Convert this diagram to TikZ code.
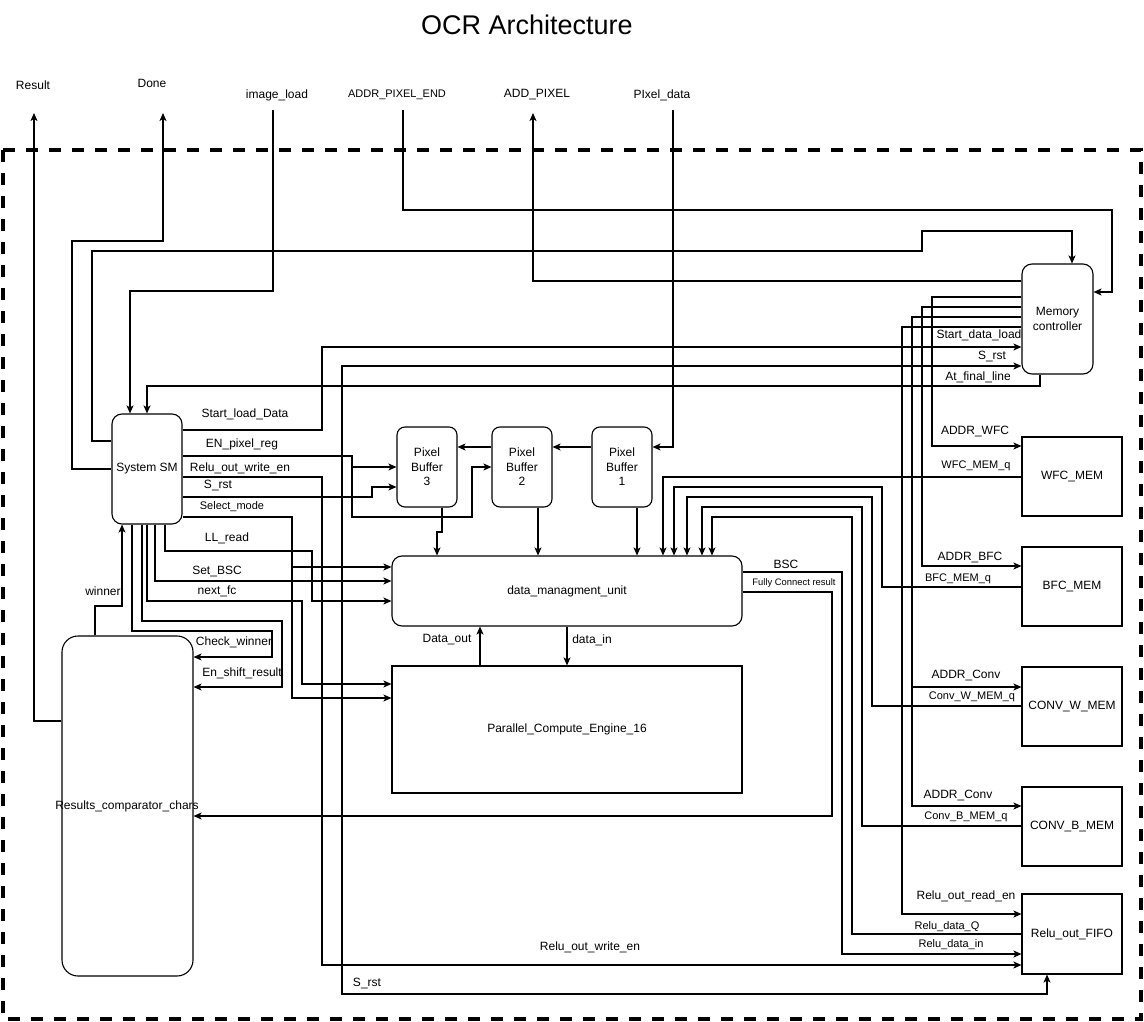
\documentclass[tikz,border=0pt]{standalone}
\usepackage{fontspec}
\setmainfont{Liberation Sans}
\usetikzlibrary{arrows.meta}
\begin{document}
\begin{tikzpicture}[x=1pt,y=-1pt,
  every node/.style={font=\fontsize{12}{14.5}\selectfont},
  box/.style={draw,line width=1.1pt,inner sep=0pt,align=center},
  rbox/.style={box,rounded corners=10pt},
  wire/.style={line width=1.1pt},
  arr/.style={wire,-{Stealth[length=8pt,width=7pt,inset=2pt]}},
  thickw/.style={line width=2pt},
  lbl/.style={inner sep=0pt},
  s11/.style={font=\fontsize{11}{13}\selectfont},
  s9/.style={font=\fontsize{9.4}{11}\selectfont},
  frame/.style={line width=4pt,dash pattern=on 12pt off 11pt}
]
\fill[white] (0,0) rectangle (1144,1022);
\useasboundingbox (0,0) rectangle (1144,1022);

% outer dashed frame
\draw[frame] (3,150) rectangle (1141,1019);

% title and top labels
\node[lbl,font=\fontsize{27}{30}\selectfont] (title) at (527,25) {OCR Architecture};
\node[lbl] (lResult) at (33,85) {Result};
\node[lbl] (lDone) at (152,83) {Done};
\node[lbl] (lImg) at (277,95) {image\_load};
\node[lbl,s11] (lAPE) at (397,95) {ADDR\_PIXEL\_END};
\node[lbl] (lAP) at (537,95) {ADD\_PIXEL};
\node[lbl] (lPD) at (662,95) {PIxel\_data};

\coordinate (resEnd) at (34,113);
\coordinate (doneEnd) at (163,113);
\coordinate (imgIn) at (273,110);
\coordinate (apeIn) at (403,110);
\coordinate (apEnd) at (533,113);
\coordinate (pdIn) at (673,110);

% blocks
\node[rbox,minimum width=70pt,minimum height=110pt] (sm) at (147,469) {System SM};
\node[rbox,minimum width=71pt,minimum height=110pt] (mc) at (1057.5,319) {Memory\\controller};
\node[rbox,rounded corners=8pt,minimum width=60pt,minimum height=80pt] (pb3) at (427,467) {Pixel\\Buffer\\3};
\node[rbox,rounded corners=8pt,minimum width=60pt,minimum height=80pt] (pb2) at (522,467) {Pixel\\Buffer\\2};
\node[rbox,rounded corners=8pt,minimum width=60pt,minimum height=80pt] (pb1) at (622,467) {Pixel\\Buffer\\1};
\node[rbox,minimum width=350pt,minimum height=70pt] (dmu) at (567,591) {data\_managment\_unit};
\node[box,minimum width=350pt,minimum height=127pt] (pce) at (567,729.5) {Parallel\_Compute\_Engine\_16};
\node[rbox,rounded corners=16pt,minimum width=131pt,minimum height=340pt] (rc) at (127.5,806) {};
\node[box,minimum width=100pt,minimum height=79pt] (wfc) at (1072,476.5) {WFC\_MEM};
\node[box,minimum width=100pt,minimum height=79pt] (bfc) at (1072,586.5) {BFC\_MEM};
\node[box,minimum width=100pt,minimum height=79pt] (cwm) at (1072,706.5) {CONV\_W\_MEM};
\node[box,minimum width=100pt,minimum height=79pt] (cbm) at (1072,826.5) {CONV\_B\_MEM};
\node[box,minimum width=100pt,minimum height=80pt] (fifo) at (1072,934) {Relu\_out\_FIFO};

% junction coordinates
\coordinate (convJ) at (912,687);
\coordinate (srJ) at (342,497);
\coordinate (enJ) at (352,467);
\coordinate (selJ) at (292,567);

% external I/O
\draw[arr] (rc.west |- 0,721) -| (resEnd);
\draw[arr] (sm.west |- 0,469) -| (72,241) -| (doneEnd);
\draw[arr] (imgIn) |- (130,291) -- (sm.north -| 130,0);
\draw[arr] (apeIn) |- (1112,210) |- (mc.east |- 0,292);
\draw[arr] (mc.west |- 0,281) -| (apEnd);
\draw[arr] (pdIn) |- (pb1.east |- 0,447);

% system SM to memory controller top
\draw[arr] (sm.west |- 0,441) -| (92,251) -| (922,231) -| (mc.north -| 1072,0);

% memory controller address outputs
\draw[arr] (mc.west |- 0,297) -| (932,446) -- (wfc.west |- 0,446);
\draw[arr] (mc.west |- 0,307) -| (922,566) -- (bfc.west |- 0,566);
\draw[arr] (mc.west |- 0,317) -| (912,806) -- (cbm.west |- 0,806);
\draw[arr] (convJ) -- (cwm.west |- 0,687);
\draw[arr] (mc.west |- 0,327) -| (902,914) -- (fifo.west |- 0,914);

% system SM outputs
\draw[arr] (sm.east |- 0,430) -| (322,347) -- (mc.west |- 0,347);
\draw[arr] (sm.east |- 0,497) -| (372,487) -- (pb3.west |- 0,487);
\draw[arr] (srJ) |- (mc.west |- 0,366);
\draw[arr] (srJ) |- (1047,994) -- (fifo.south -| 1047,0);
\draw[arr] (mc.south -| 1040,0) |- (147,386) -- (sm.north -| 147,0);
\draw[arr] (sm.east |- 0,456) -| (352,517) -| (472,467) -- (pb2.west |- 0,467);
\draw[arr] (enJ) -- (pb3.west |- 0,467);
\draw[arr] (sm.east |- 0,477) -| (322,965) -- (fifo.west |- 0,965);
\draw[arr] (sm.east |- 0,517) -| (292,698) -- (pce.west |- 0,698);
\draw[arr] (selJ) -- (dmu.west |- 0,567);
\draw[arr] (sm.south -| 165,0) |- (312,551) |- (dmu.west |- 0,601);
\draw[arr] (sm.south -| 155,0) |- (dmu.west |- 0,581);
\draw[arr] (sm.south -| 147,0) |- (302,601) |- (pce.west |- 0,684);
\draw[arr] (sm.south -| 132,0) |- (272,631) |- (rc.east |- 0,657);
\draw[arr] (sm.south -| 142,0) |- (282,621) |- (rc.east |- 0,687);
\draw[arr] (rc.north -| 95,0) |- (122,606) -- (sm.south -| 122,0);

% thicker stubs
\draw[thickw] (sm.east |- 0,456) -- (287,456);
\draw[thickw] (sm.east |- 0,497) -- (342,497);
\draw[thickw] (192,517) -- (292,517);

% pixel buffer chain
\draw[arr] (pb1.west |- 0,447) -- (pb2.east |- 0,447);
\draw[arr] (pb2.west |- 0,447) -- (pb3.east |- 0,447);
\draw[arr] (pb3.south -| 442,0) -- (442,532) -- (437,532) -- (dmu.north -| 437,0);
\draw[arr] (pb2.south -| 538,0) -- (dmu.north -| 538,0);
\draw[arr] (pb1.south -| 637,0) -- (dmu.north -| 637,0);

% memory data into DMU
\draw[arr] (wfc.west |- 0,477) -| (dmu.north -| 663,0);
\draw[arr] (bfc.west |- 0,587) -| (882,487) -| (dmu.north -| 674,0);
\draw[arr] (cwm.west |- 0,706) -| (872,497) -| (dmu.north -| 687,0);
\draw[arr] (cbm.west |- 0,826) -| (862,507) -| (dmu.north -| 702,0);
\draw[arr] (fifo.west |- 0,934) -| (852,517) -| (dmu.north -| 712,0);

% DMU outputs
\draw[arr] (dmu.east |- 0,572) -| (842,954) -- (fifo.west |- 0,954);
\draw[arr] (dmu.east |- 0,592) -| (832,816) -- (rc.east |- 0,816);
\draw[arr] (pce.north -| 480,0) -- (dmu.south -| 480,0);
\draw[arr] (dmu.south -| 567,0) -- (pce.north -| 567,0);

% texts
\node[lbl] (rctext) at (127,806) {Results\_comparator\_chars};
\node[lbl] (lStartLoad) at (245,414) {Start\_load\_Data};
\node[lbl] (lEN) at (242,444) {EN\_pixel\_reg};
\node[lbl] (lReluW) at (240,468) {Relu\_out\_write\_en};
\node[lbl] (lSrst1) at (218,486) {S\_rst};
\node[lbl,s11] (lSel) at (232,507) {Select\_mode};
\node[lbl] (lLL) at (227,538) {LL\_read};
\node[lbl] (lSetBSC) at (217,571) {Set\_BSC};
\node[lbl] (lNext) at (217,591) {next\_fc};
\node[lbl] (lWinner) at (103,591) {winner};
\node[lbl] (lCheck) at (234,642) {Check\_winner};
\node[lbl] (lEnShift) at (242,673) {En\_shift\_result};
\node[lbl] (lStartData) at (979,335) {Start\_data\_load};
\node[lbl] (lSrst2) at (992,357) {S\_rst};
\node[lbl] (lAtFinal) at (978,377) {At\_final\_line};
\node[lbl] (lAddrWFC) at (975,432) {ADDR\_WFC};
\node[lbl,s11] (lWFCq) at (976,466) {WFC\_MEM\_q};
\node[lbl] (lAddrBFC) at (970,558) {ADDR\_BFC};
\node[lbl,s11] (lBFCq) at (958,579) {BFC\_MEM\_q};
\node[lbl] (lAddrConv1) at (966,675) {ADDR\_Conv};
\node[lbl,s11] (lConvWq) at (972,697) {Conv\_W\_MEM\_q};
\node[lbl] (lAddrConv2) at (958,795) {ADDR\_Conv};
\node[lbl,s11] (lConvBq) at (966,817) {Conv\_B\_MEM\_q};
\node[lbl] (lReluRead) at (966,896) {Relu\_out\_read\_en};
\node[lbl,s11] (lReluQ) at (947,927) {Relu\_data\_Q};
\node[lbl,s11] (lReluIn) at (951,945) {Relu\_data\_in};
\node[lbl] (lBSC) at (786,564) {BSC};
\node[lbl,s9] (lFC) at (794,583) {Fully Connect result};
\node[lbl] (lDataOut) at (447,640) {Data\_out};
\node[lbl] (lDataIn) at (592,640) {data\_in};
\node[lbl] (lReluW2) at (590,947) {Relu\_out\_write\_en};
\node[lbl] (lSrst3) at (367,983) {S\_rst};
\end{tikzpicture}
\end{document}
